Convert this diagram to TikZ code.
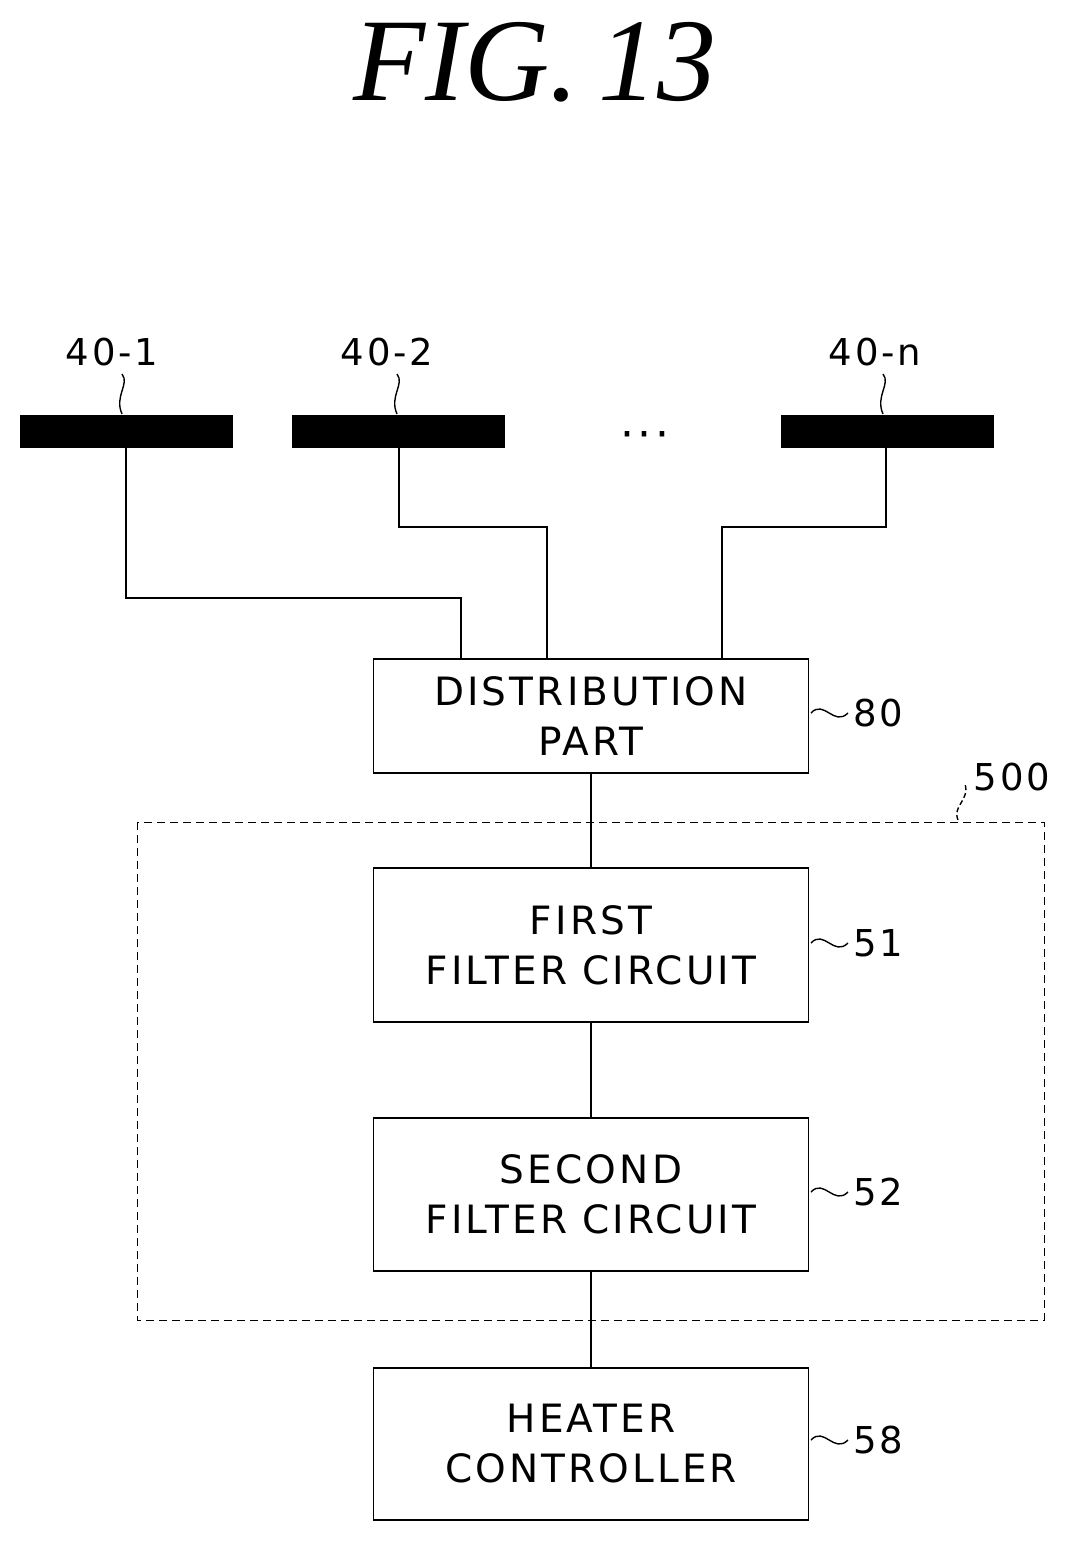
\documentclass[tikz,border=0pt]{standalone}
\usepackage{fontspec}
\setmainfont{Liberation Serif}
\setsansfont{DejaVu Sans}[LetterSpace=8]
\usetikzlibrary{positioning}
\tikzset{
  box/.style={draw,line width=1.6pt,minimum width=435pt,align=center,
    font=\fontsize{39}{50}\selectfont\sffamily},
  bar/.style={fill=black},
  wire/.style={line width=1.6pt},
  tag/.style={font=\fontsize{37}{40}\selectfont\sffamily},
  squig/.style={line width=1.4pt}
}

\begin{document}
\begin{tikzpicture}[x=1pt,y=-1pt]
  \useasboundingbox (0,0) rectangle (1075,1543);

  \node[font=\fontsize{118}{118}\selectfont\itshape] (title) at (535,62) {FIG.\,13};

  % electrodes
  \fill[bar] (20,415) rectangle (233,448);
  \fill[bar] (292,415) rectangle (505,448);
  \fill[bar] (781,415) rectangle (994,448);
  \node[tag] (e1) at (112,352) {40-1};
  \node[tag] (e2) at (387,352) {40-2};
  \node[tag] (en) at (875,352) {40-n};
  \node[font=\fontsize{44}{44}\selectfont\sffamily] (dots) at (645,440) {···};
  \foreach \x/\n in {122/e1,397/e2,883/en}{
    \draw[squig] (\x,374) .. controls (\x+8,384) and (\x-8,396) .. (\x,414);
  }

  % blocks
  \node[box,minimum height=114pt] (dist) at (591,716) {DISTRIBUTION\\PART};
  \node[box,minimum height=154pt] (f1) at (591,945) {FIRST\\FILTER CIRCUIT};
  \node[box,minimum height=153pt] (f2) at (591,1194.5) {SECOND\\FILTER CIRCUIT};
  \node[box,minimum height=152pt] (heat) at (591,1444) {HEATER\\CONTROLLER};

  \draw[dash pattern=on 8pt off 5pt,line width=1pt] (137,822) rectangle (1044,1320);

  % wires
  \draw[wire] (126,448) |- (461,598) -- (dist.north -| 461,0);
  \draw[wire] (399,448) |- (547,527) -- (dist.north -| 547,0);
  \draw[wire] (886,448) |- (722,527) -- (dist.north -| 722,0);
  \draw[wire] (dist) -- (f1);
  \draw[wire] (f1) -- (f2);
  \draw[wire] (f2) -- (heat);

  % reference numerals
  \foreach \y/\t in {713/80,943/51,1192/52,1440/58}{
    \draw[squig] (811,\y) .. controls (824,\y-14) and (834,\y+14) .. (848,\y);
    \node[tag,anchor=west] at (850,\y) {\t};
  }
  \node[tag] (n500) at (1012,777) {500};
  \draw[squig,dash pattern=on 5pt off 3pt] (958,820) .. controls (952,806) and (970,800) .. (965,784);
\end{tikzpicture}
\end{document}
